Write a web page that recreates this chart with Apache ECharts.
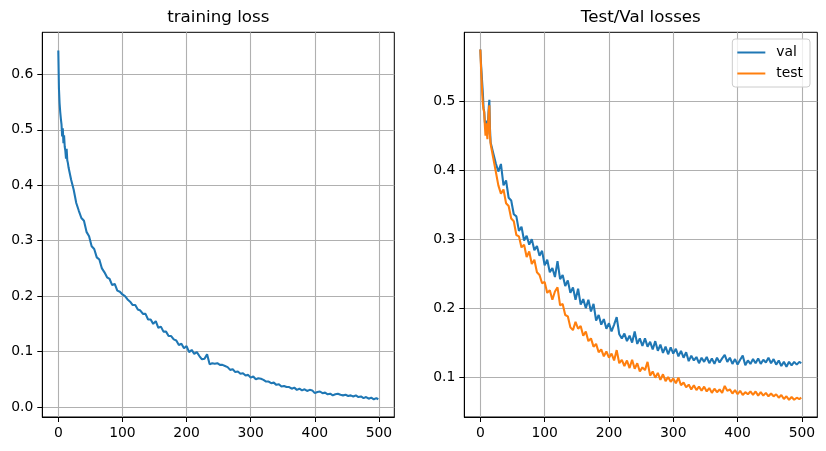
<!DOCTYPE html>
<html><head><meta charset="utf-8">
<script src="https://cdn.jsdelivr.net/npm/echarts@6/dist/echarts.min.js"></script>
<style>html,body{margin:0;padding:0;background:#fff}#c{width:826px;height:451px}</style>
</head><body><div id="c"></div>
<script>
const epochs = [0,1,2,3,4,5,6,7,8,9,10,11,12,13,14,15,16,
20,24,28,32,36,40,44,48,52,56,
60,64,68,72,76,80,84,88,92,96,
100,104,108,112,116,120,124,128,132,136,
140,144,148,152,156,160,164,168,172,176,
180,184,188,192,196,200,204,208,212,216,
220,224,228,232,236,240,244,248,252,256,
260,264,268,272,276,280,284,288,292,296,
300,304,308,312,316,320,324,328,332,336,
340,344,348,352,356,360,364,368,372,376,
380,384,388,392,396,400,404,408,412,416,
420,424,428,432,436,440,444,448,452,456,
460,464,468,472,476,480,484,488,492,496,499];

const trainLoss = [0.643,0.575,0.548,0.532,0.52,0.51,0.488,0.503,0.476,0.49,0.47,0.462,0.448,0.466,0.445,0.44,0.432,
0.41,0.392,0.368,0.354,0.341,0.336,0.316,0.308,0.29,0.285,
0.27,0.266,0.25,0.243,0.234,0.231,0.22,0.222,0.21,0.208,
0.203,0.2,0.194,0.19,0.184,0.184,0.176,0.174,0.168,0.168,
0.158,0.158,0.15,0.155,0.143,0.145,0.136,0.136,0.128,0.128,
0.122,0.12,0.112,0.114,0.106,0.11,0.099,0.103,0.096,0.099,
0.092,0.086,0.087,0.095,0.077,0.079,0.078,0.079,0.076,0.076,
0.074,0.072,0.067,0.068,0.063,0.064,0.06,0.061,0.057,0.058,
0.053,0.055,0.05,0.052,0.051,0.049,0.046,0.046,0.043,0.044,
0.04,0.041,0.037,0.038,0.036,0.036,0.033,0.035,0.031,0.033,
0.03,0.032,0.029,0.031,0.03,0.025,0.027,0.028,0.025,0.026,
0.023,0.024,0.021,0.023,0.024,0.022,0.021,0.022,0.02,0.021,
0.019,0.021,0.018,0.019,0.016,0.018,0.015,0.017,0.014,0.016,0.014];

const valLoss = [0.575,0.555,0.54,0.525,0.51,0.49,0.485,0.47,0.463,0.472,0.455,0.452,0.45,0.49,0.502,0.46,0.44,
0.425,0.41,0.398,0.409,0.378,0.385,0.36,0.356,0.336,0.333,
0.312,0.318,0.298,0.305,0.292,0.3,0.284,0.29,0.276,0.283,
0.262,0.27,0.252,0.258,0.245,0.268,0.242,0.248,0.232,0.24,
0.222,0.23,0.212,0.228,0.205,0.213,0.2,0.212,0.195,0.206,
0.182,0.19,0.176,0.184,0.17,0.178,0.166,0.176,0.187,0.162,
0.156,0.163,0.152,0.16,0.15,0.166,0.148,0.156,0.145,0.156,
0.144,0.151,0.14,0.152,0.138,0.147,0.135,0.144,0.133,0.143,
0.134,0.141,0.13,0.138,0.128,0.136,0.123,0.131,0.124,0.129,
0.12,0.128,0.122,0.129,0.12,0.127,0.119,0.128,0.121,0.127,
0.132,0.122,0.128,0.119,0.126,0.118,0.125,0.131,0.117,0.124,
0.119,0.126,0.12,0.127,0.119,0.125,0.121,0.128,0.12,0.126,
0.118,0.124,0.116,0.122,0.115,0.122,0.117,0.122,0.118,0.122,0.12];

const testLoss = [0.575,0.55,0.53,0.51,0.495,0.488,0.484,0.465,0.45,0.468,0.455,0.445,0.443,0.485,0.494,0.45,0.438,
0.418,0.398,0.378,0.366,0.372,0.352,0.348,0.33,0.326,0.306,
0.304,0.288,0.292,0.274,0.282,0.264,0.27,0.252,0.248,0.236,
0.238,0.222,0.226,0.212,0.224,0.23,0.204,0.206,0.19,0.188,
0.172,0.168,0.18,0.17,0.174,0.16,0.166,0.152,0.156,0.144,
0.148,0.136,0.14,0.13,0.137,0.128,0.134,0.124,0.139,0.12,
0.125,0.116,0.124,0.113,0.125,0.112,0.12,0.108,0.114,0.11,
0.122,0.102,0.108,0.099,0.106,0.096,0.104,0.094,0.1,0.093,
0.098,0.091,0.099,0.088,0.092,0.085,0.089,0.082,0.088,0.081,
0.086,0.08,0.086,0.079,0.084,0.077,0.083,0.078,0.082,0.077,
0.087,0.08,0.082,0.076,0.081,0.075,0.08,0.074,0.078,0.075,
0.079,0.074,0.079,0.073,0.078,0.073,0.077,0.072,0.076,0.072,
0.075,0.07,0.074,0.068,0.072,0.067,0.071,0.067,0.07,0.068,0.07];

const xTicks = [0,100,200,300,400,500];
const yTicksTrain = [0,0.1,0.2,0.3,0.4,0.5,0.6];
const yTicksVal = [0.1,0.2,0.3,0.4,0.5];
const titles = ['training loss','Test/Val losses'];
const seriesNames = ['val','test'];

const FONT = "'DejaVu Sans', sans-serif";
const pairs = (ys) => epochs.map((e,i) => [e, ys[i]]);

function xAxis(gi){
  return {gridIndex:gi, type:'value', min:-24.95, max:523.95,
    axisLine:{show:true, onZero:false, lineStyle:{color:'#000', width:1}},
    axisTick:{show:true, length:5, customValues:xTicks, lineStyle:{color:'#000', width:1}},
    axisLabel:{customValues:xTicks, margin:9, color:'#000', fontFamily:FONT, fontSize:13.9},
    splitLine:{show:true, lineStyle:{color:'#b0b0b0', width:1.1}}};
}
function yAxis(gi, min, max, ticks){
  return {gridIndex:gi, type:'value', min:min, max:max,
    axisLine:{show:true, onZero:false, lineStyle:{color:'#000', width:1}},
    axisTick:{show:true, length:5, customValues:ticks, lineStyle:{color:'#000', width:1}},
    axisLabel:{customValues:ticks, margin:9, color:'#000', fontFamily:FONT, fontSize:13.9,
      formatter:(v)=>v.toFixed(1)},
    splitLine:{show:true, lineStyle:{color:'#b0b0b0', width:1.1}}};
}
function line(name, gi, ys, color){
  return {name:name, type:'line', xAxisIndex:gi, yAxisIndex:gi, data:pairs(ys),
    showSymbol:false, symbol:'none', lineStyle:{color:color, width:2.08}, itemStyle:{color:color},
    silent:true, z:3};
}

const chart = echarts.init(document.getElementById('c'), null, {renderer:'canvas'});
chart.setOption({
  animation:false,
  backgroundColor:'#fff',
  grid:[
    {left:42.3, top:32.3, width:352, height:384.7, show:true, borderColor:'#000', borderWidth:1, backgroundColor:'transparent'},
    {left:464.3, top:32.3, width:353, height:384.7, show:true, borderColor:'#000', borderWidth:1, backgroundColor:'transparent'}
  ],
  xAxis:[xAxis(0), xAxis(1)],
  yAxis:[yAxis(0,-0.018,0.676,yTicksTrain), yAxis(1,0.042,0.600,yTicksVal)],
  legend:{data:seriesNames, orient:'vertical', right:16, top:39, icon:'rect', itemWidth:28, itemHeight:2,
    itemGap:6, padding:[6,7,6,5], backgroundColor:'rgba(255,255,255,0.8)', borderColor:'#cccccc',
    borderWidth:1, borderRadius:3, selectedMode:false,
    textStyle:{fontFamily:FONT, fontSize:13.9, color:'#000', padding:[0,0,0,6], lineHeight:15}},
  graphic:[
    {type:'text', x:218.3, y:18, style:{text:titles[0], font:"16.7px 'DejaVu Sans', sans-serif", fill:'#000', align:'center', verticalAlign:'middle', textAlign:'center', textVerticalAlign:'middle'}},
    {type:'text', x:640.8, y:18, style:{text:titles[1], font:"16.7px 'DejaVu Sans', sans-serif", fill:'#000', align:'center', verticalAlign:'middle', textAlign:'center', textVerticalAlign:'middle'}}
  ],
  series:[
    line('train', 0, trainLoss, '#1f77b4'),
    line('val', 1, valLoss, '#1f77b4'),
    line('test', 1, testLoss, '#ff7f0e')
  ]
});
</script></body></html>
